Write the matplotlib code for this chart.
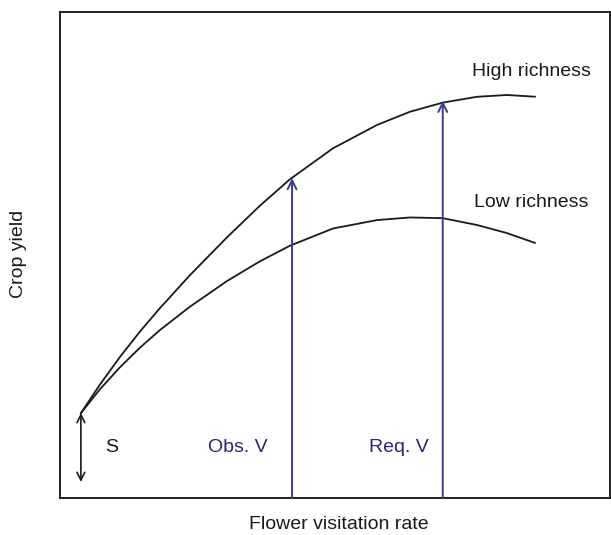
import matplotlib.pyplot as plt

plt.rcParams['font.family'] = ['Liberation Sans', 'DejaVu Sans']

# curves (x = visitation rate, y = crop yield, arbitrary units)
curve_x = [0.382, 0.727, 1.091, 1.455, 1.818, 2.364, 3.036, 3.636, 4.182,
           4.964, 5.764, 6.364, 6.964, 7.582, 8.127, 8.636]
high_y = [1.749, 2.335, 2.903, 3.426, 3.907, 4.586, 5.362, 6.014, 6.558,
          7.195, 7.675, 7.947, 8.136, 8.255, 8.292, 8.257]
low_y = [1.749, 2.238, 2.690, 3.094, 3.456, 3.937, 4.463, 4.870, 5.191,
         5.545, 5.718, 5.772, 5.757, 5.617, 5.451, 5.249]

# arrows: (x, y_start, y_end)
s_arrow = (0.38, 1.75, 0.33)
obs_arrow = (4.22, 0.0, 6.58)
req_arrow = (6.96, 0.0, 8.17)

blue = '#3b3b8f'
textblue = '#262673'
ink = '#1a1a1a'

fig = plt.figure(figsize=(6.11, 5.35), dpi=100)
ax = fig.add_axes([0.0982, 0.0692, 0.900, 0.9084])
ax.set_xlim(0, 10)
ax.set_ylim(0, 10)

ax.plot(curve_x, high_y, color=ink, lw=1.3, solid_joinstyle='round')
ax.plot(curve_x, low_y, color=ink, lw=1.3, solid_joinstyle='round')

# vertical arrows
for x, y0, y1 in [obs_arrow, req_arrow]:
    ax.annotate('', xy=(x, y1), xytext=(x, y0),
                arrowprops=dict(arrowstyle='->', color=blue, lw=1.4,
                                mutation_scale=16, shrinkA=0, shrinkB=0))
ax.annotate('', xy=(s_arrow[0], s_arrow[2]), xytext=(s_arrow[0], s_arrow[1]),
            arrowprops=dict(arrowstyle='<->', color=ink, lw=1.2,
                            mutation_scale=14, shrinkA=0, shrinkB=0))

ax.text(0.93, 1.03, 'S', fontsize=14, ha='center', va='center', color=ink)
ax.text(3.24, 1.03, 'Obs. V', fontsize=14, ha='center', va='center', color=textblue)
ax.text(6.16, 1.03, 'Req. V', fontsize=14, ha='center', va='center', color=textblue)
ax.text(8.58, 8.77, 'High richness', fontsize=14, ha='center', va='center', color=ink)
ax.text(8.56, 6.07, 'Low richness', fontsize=14, ha='center', va='center', color=ink)

ax.set_xticks([])
ax.set_yticks([])
for sp in ax.spines.values():
    sp.set_linewidth(1.4)
    sp.set_color('#222222')

fig.text(0.555, 0.019, 'Flower visitation rate', fontsize=14, ha='center', va='center', color=ink)
fig.text(0.031, 0.525, 'Crop yield', fontsize=14, ha='center', va='center', rotation=90, color=ink)

fig.savefig('out.png', dpi=100)
